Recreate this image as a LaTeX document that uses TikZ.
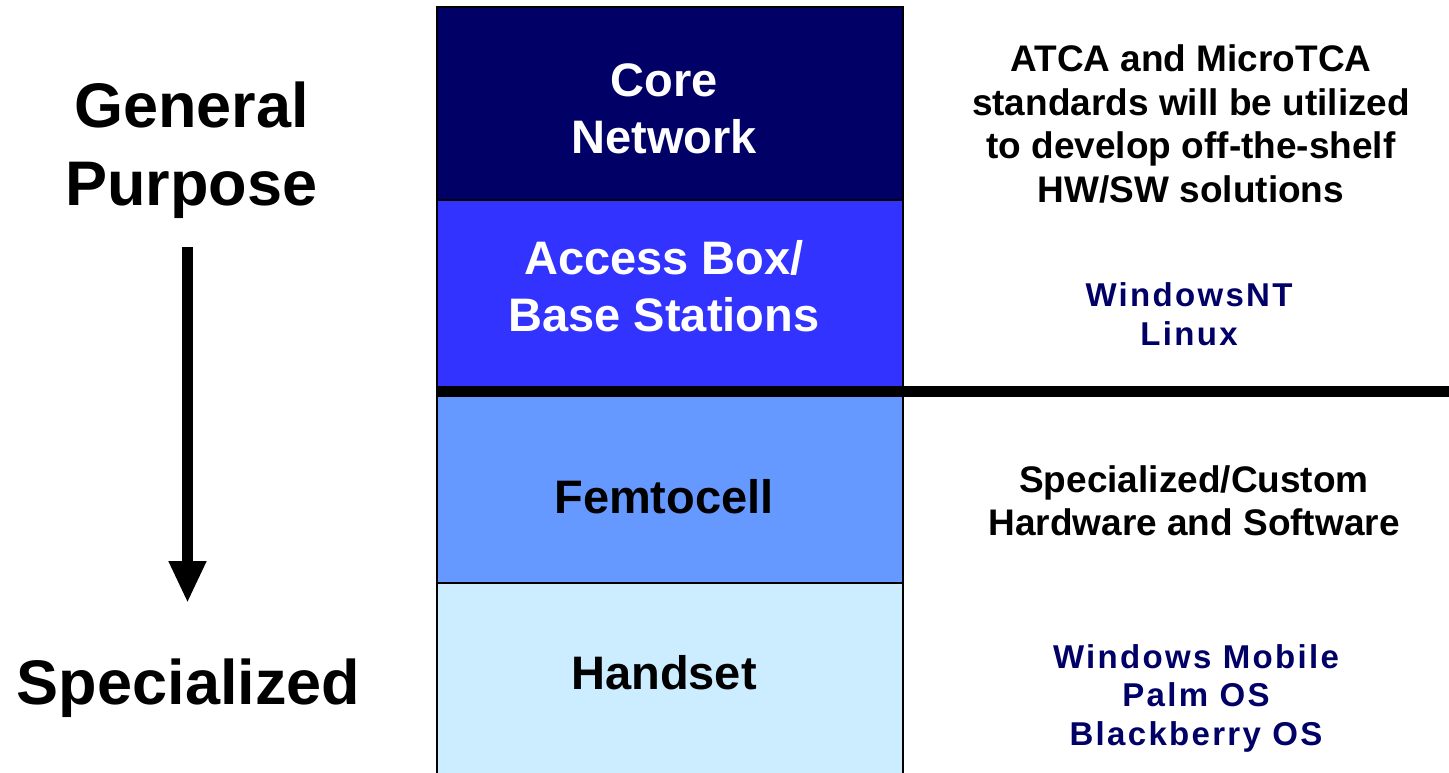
\documentclass[tikz,border=0pt]{standalone}
\usepackage{fontspec}
\setmainfont{Liberation Sans}
\newfontfamily\widesans[LetterSpace=7]{Liberation Sans}
\usetikzlibrary{arrows.meta}
\definecolor{coreblue}{HTML}{000066}
\definecolor{accessblue}{HTML}{3333FF}
\definecolor{femtoblue}{HTML}{6699FF}
\definecolor{handblue}{HTML}{CCECFF}
\definecolor{osnavy}{HTML}{000066}
\begin{document}
\begin{tikzpicture}[x=1pt,y=-1pt]
\tikzset{
  layer/.style={draw=black, line width=2pt, minimum width=466pt, inner sep=0pt, outer sep=0pt},
  boxtext/.style={align=center, inner sep=0pt, font=\bfseries\fontsize{47}{56.5}\selectfont},
  sidetext/.style={align=center, inner sep=0pt, font=\bfseries\fontsize{63}{78}\selectfont},
  notetext/.style={align=center, inner sep=0pt, font=\bfseries\fontsize{37}{43.5}\selectfont},
  ostext/.style={align=center, inner sep=0pt, text=osnavy, font=\widesans\bfseries\fontsize{33}{38.5}\selectfont},
}
\clip (0,0) rectangle (1449,773);
\fill[white] (0,0) rectangle (1449,773);

% stacked layers
\node[layer, fill=coreblue,   minimum height=193pt] (core)   at (670,103.5) {};
\node[layer, fill=accessblue, minimum height=191pt] (access) at (670,295.5) {};
\node[layer, fill=femtoblue,  minimum height=192pt] (femto)  at (670,487) {};
\node[layer, fill=handblue,   minimum height=210pt] (hand)   at (670,688) {};

% divider between general-purpose and specialized platforms
\coordinate (divL) at (437,391.5);
\coordinate (divR) at (1460,391.5);
\draw[line width=11pt] (divL) -- (divR);

% layer labels
\node[boxtext, text=white] (coreL)   at (664,109) {Core\\Network};
\node[boxtext, text=white] (accessL) at (664,286) {Access Box/\\Base Stations};
\node[boxtext, text=black] (femtoL)  at (664,497) {Femtocell};
\node[boxtext, text=black] (handL)   at (664,673) {Handset};

% left-hand scale
\node[sidetext] (gen)  at (191.5,150) {General\\Purpose};
\node[sidetext] (spec) at (188.5,688) {Specialized};
\coordinate (arrTop) at (187.5,247);
\coordinate (arrTip) at (187.5,603);
\draw[line width=11pt, -{Triangle[length=42pt 0 0, width=35pt 0 0]}] (arrTop) -- (arrTip);

% right-hand notes
\node[notetext] (atca) at (1191,124) {ATCA and MicroTCA\\standards will be utilized\\to develop off-the-shelf\\HW/SW solutions};
\node[ostext] (nt) at (1189,314) {WindowsNT\\Linux};
\node[notetext] (custom) at (1194,501) {Specialized/Custom\\Hardware and Software};
\node[ostext] (mob) at (1196,698) {Windows Mobile\\Palm OS\\Blackberry OS};
\end{tikzpicture}
\end{document}
